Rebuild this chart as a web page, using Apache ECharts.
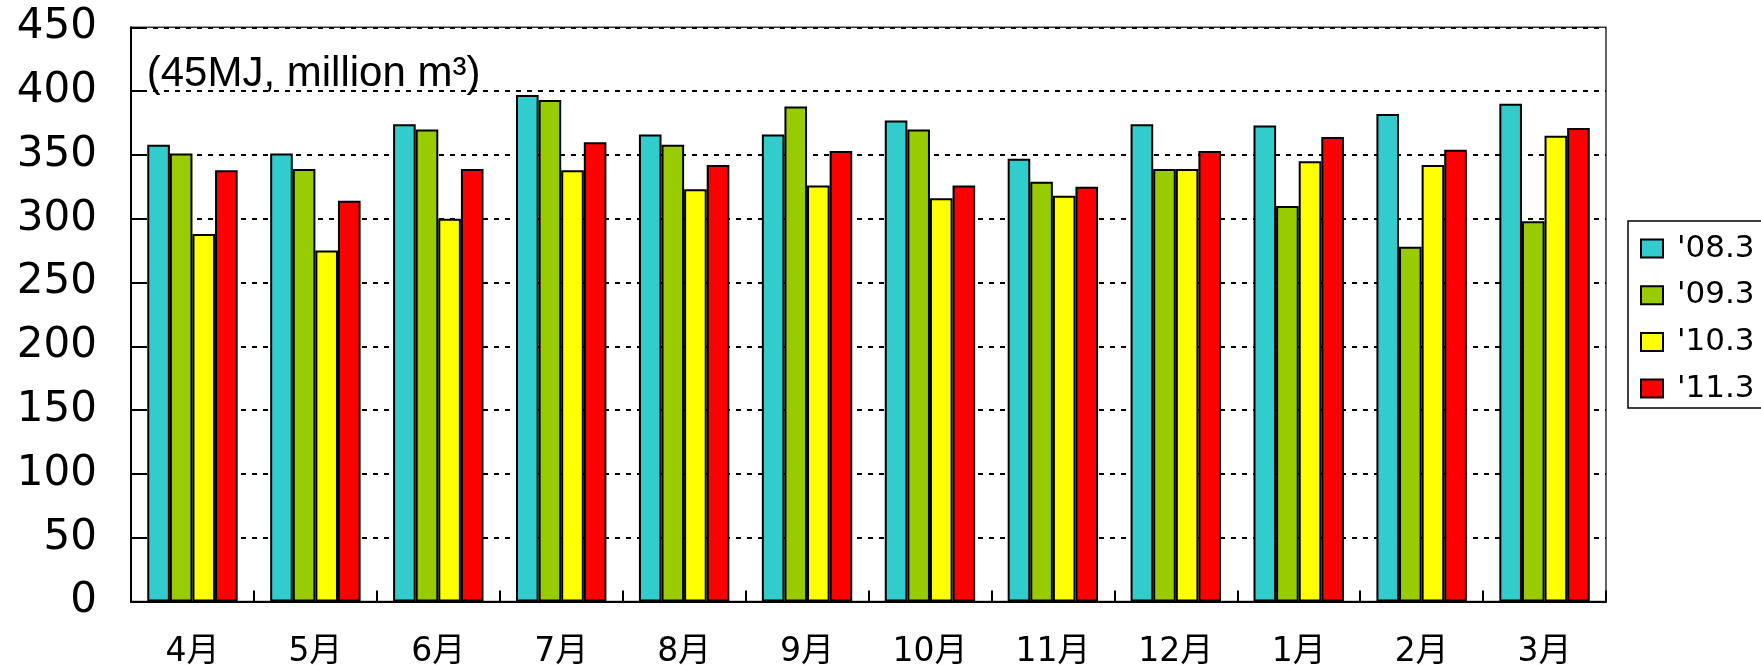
<!DOCTYPE html>
<html>
<head>
<meta charset="utf-8">
<script src="https://cdn.jsdelivr.net/npm/echarts@6/dist/echarts.min.js"></script>
<style>
  html, body { margin: 0; padding: 0; background: #fff; }
  #chart { width: 1761px; height: 665px; }
</style>
</head>
<body>
<div id="chart"></div>
<script>
// Monthly gas sales volume by fiscal year (45MJ, million m3)
const months = ['4月', '5月', '6月', '7月', '8月', '9月', '10月', '11月', '12月', '1月', '2月', '3月'];
const seriesNames = ["'08.3", "'09.3", "'10.3", "'11.3"];
const fy08 = [358, 351, 374, 397, 366, 366, 377, 347, 374, 373, 382, 390];
const fy09 = [351, 339, 370, 393, 358, 388, 370, 329, 339, 310, 278, 298];
const fy10 = [288, 275, 300, 338, 323, 326, 316, 318, 339, 345, 342, 365];
const fy11 = [338, 314, 339, 360, 342, 353, 326, 325, 353, 364, 354, 371];
const yTicks = { min: 0, max: 450, step: 50 };
const unitLabel = '(45MJ, million m³)';

const palette = ['#33CCCC', '#99CC00', '#FFFF00', '#FF0000'];
const values = [fy08, fy09, fy10, fy11];

const chart = echarts.init(document.getElementById('chart'), null, { renderer: 'canvas' });

const numFont = 'DejaVu Sans';

chart.setOption({
  animation: false,
  backgroundColor: '#ffffff',
  grid: {
    left: 131, right: 155, top: 27.3, bottom: 63.5,
    outerBoundsMode: 'none',
    containLabel: false,
    show: true, borderColor: '#333', borderWidth: 1.5, backgroundColor: 'transparent'
  },
  xAxis: {
    type: 'category',
    data: months,
    axisLine: { show: true, lineStyle: { color: '#000', width: 2 } },
    axisTick: { show: true, inside: true, length: 11, lineStyle: { color: '#000', width: 2 } },
    axisLabel: {
      margin: 34,
      color: '#000',
      fontSize: 33,
      fontFamily: numFont + ', "Noto Sans CJK JP"'
    },
    splitLine: { show: false }
  },
  yAxis: {
    type: 'value',
    min: yTicks.min, max: yTicks.max, interval: yTicks.step,
    axisLine: { show: true, lineStyle: { color: '#000', width: 2 } },
    axisTick: { show: true, inside: true, length: 16, lineStyle: { color: '#000', width: 2 } },
    axisLabel: { margin: 34, color: '#000', fontSize: 42, fontFamily: numFont },
    splitLine: { show: true, lineStyle: { color: '#000', width: 2, type: [5, 6] } }
  },
  legend: {
    orient: 'vertical',
    left: 1628, top: 221,
    data: seriesNames,
    icon: 'rect',
    itemWidth: 22, itemHeight: 18,
    itemGap: 15.7,
    padding: [12, 30, 4, 12],
    borderColor: '#000', borderWidth: 1.5,
    backgroundColor: '#fff',
    textStyle: { color: '#000', fontSize: 31, fontFamily: numFont, lineHeight: 31, padding: [0, 0, 0, 9] }
  },
  graphic: [{
    type: 'text',
    left: 146.7, top: 53,
    style: { text: unitLabel, fill: '#000', fontSize: 42, fontFamily: 'Liberation Sans' }
  }],
  series: seriesNames.map((name, i) => ({
    name: name,
    type: 'bar',
    data: values[i],
    barWidth: 22.6,
    barGap: '0%',
    itemStyle: { color: palette[i], borderColor: '#000', borderWidth: 2 }
  }))
});
</script>
</body>
</html>
